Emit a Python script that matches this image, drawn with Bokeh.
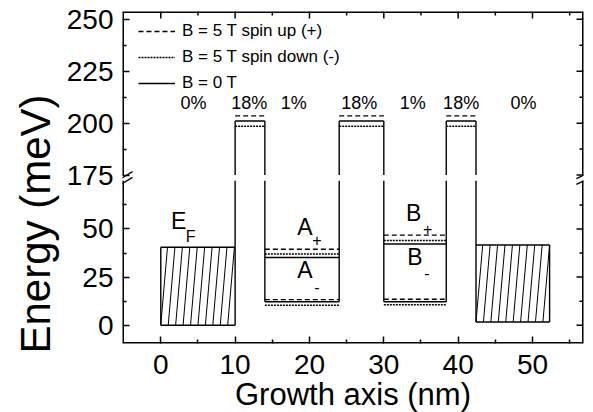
import numpy as np
from bokeh.plotting import figure
from bokeh.models import (Range1d, FixedTicker, Legend, LegendItem,
                          ColumnDataSource, Title)
from bokeh.core.properties import value
from bokeh.embed import file_html
from bokeh.resources import INLINE

nan = float("nan")

# ---------------- data ----------------
layer_edges = [0.0, 10.0, 14.0, 24.0, 30.0, 38.4, 42.4, 52.3]        # nm
layer_mn = ["0%", "18%", "1%", "18%", "1%", "18%", "0%"]
band_b0 = [0.0, 201.0, 12.2, 201.0, 12.2, 201.0, 1.7]                # meV, B = 0 T
band_up = [nan, 203.5, 13.3, 203.5, 13.5, 203.5, nan]                # B = 5 T spin up
band_dn = [nan, 198.5, 10.4, 198.5, 10.6, 198.5, nan]                # B = 5 T spin down
fermi_top = [40.5, nan, nan, nan, nan, nan, 41.7]                    # E_F in doped layers
level_b0 = [nan, nan, 35.2, nan, 42.2, nan, nan]
level_up = [nan, nan, 39.5, nan, 46.8, nan, nan]
level_dn = [nan, nan, 37.0, nan, 44.0, nan, nan]

mn_label_x = [4.4, 11.9, 17.9, 26.7, 33.9, 40.4, 48.8]
mn_label_E = 209.5

state_text = ["E", "A", "A", "B", "B"]
state_x = [2.4, 19.4, 19.4, 34.0, 34.2]
state_E = [54.0, 51.2, 28.8, 58.4, 35.6]
state_sub = ["F", "+", "-", "+", "-"]
state_sub_x = [4.0, 21.0, 21.0, 35.9, 35.8]
state_sub_E = [46.2, 44.2, 19.7, 50.0, 27.0]

x_ticks = [0, 10, 20, 30, 40, 50]
x_minor = [5, 15, 25, 35, 45, 55]
y_ticks_E = [0, 25, 50, 175, 200, 225, 250]
y_minor_E = [12.5, 37.5, 62.5, 187.5, 212.5, 237.5]

legend_labels = ["B = 5 T spin up (+)", "B = 5 T spin down (-)", "B = 0 T"]

# ---------------- broken energy axis ----------------
BREAK_LO, BREAK_HI = 75.0, 175.0
UP_OFFSET, UP_SCALE = 78.0, 1.08


def P(E):
    E = float(E)
    return E if E <= BREAK_LO else UP_OFFSET + (E - BREAK_HI) * UP_SCALE


X0, X1 = -5.15, 56.86
Y0, Y1 = -9.5, 163.0
FW, FH = 461, 332
FONT = "Liberation Sans"

p = figure(frame_width=FW, frame_height=FH, x_range=Range1d(X0, X1),
           y_range=Range1d(Y0, Y1), output_backend="svg", toolbar_location=None,
           min_border_left=122, min_border_top=11, min_border_right=8,
           min_border_bottom=10)
p.outline_line_color = None
p.xgrid.visible = False
p.ygrid.visible = False
p.background_fill_color = "white"

px_x = (X1 - X0) / FW   # data units per pixel
px_y = (Y1 - Y0) / FH


def hseg(store, xa, xb, e):
    store["x0"].append(xa); store["x1"].append(xb)
    store["y0"].append(P(e)); store["y1"].append(P(e))


def vseg(store, x, ea, eb):
    lo, hi = min(ea, eb), max(ea, eb)
    parts = [(lo, hi)]
    if lo < BREAK_LO and hi > BREAK_HI:
        parts = [(lo, BREAK_LO), (BREAK_HI, hi)]
    for a, b in parts:
        store["x0"].append(x); store["x1"].append(x)
        store["y0"].append(P(a)); store["y1"].append(P(b))


def new():
    return {"x0": [], "y0": [], "x1": [], "y1": []}


solid, dashed, dotted, hatch = new(), new(), new(), new()
n = len(layer_mn)
for i in range(n):
    xa, xb = layer_edges[i], layer_edges[i + 1]
    hseg(solid, xa, xb, band_b0[i])
    if not np.isnan(band_up[i]):
        hseg(dashed, xa, xb, band_up[i])
    if not np.isnan(band_dn[i]):
        hseg(dotted, xa, xb, band_dn[i])
    if not np.isnan(level_b0[i]):
        hseg(solid, xa, xb, level_b0[i])
    if not np.isnan(level_up[i]):
        hseg(dashed, xa, xb, level_up[i])
    if not np.isnan(level_dn[i]):
        hseg(dotted, xa, xb, level_dn[i])
    if not np.isnan(fermi_top[i]):
        hseg(solid, xa, xb, fermi_top[i])
        # hatching of the filled (doped) layer
        k = 0.0
        while xa + k < xb - 0.3:
            xt = min(xa + k + 0.9, xb)
            hatch["x0"].append(xa + k); hatch["y0"].append(P(band_b0[i]))
            hatch["x1"].append(xt); hatch["y1"].append(P(fermi_top[i]))
            k += 1.0
for j in range(1, n):
    vseg(solid, layer_edges[j], band_b0[j - 1], band_b0[j])
vseg(solid, layer_edges[0], band_b0[0], fermi_top[0])
vseg(solid, layer_edges[-1], band_b0[-1], fermi_top[-1])

# frame with axis breaks
frame = new()
for xe in (X0, X1):
    frame["x0"] += [xe, xe]; frame["x1"] += [xe, xe]
    frame["y0"] += [Y0, P(BREAK_HI)]; frame["y1"] += [P(BREAK_LO), Y1]
for ye in (Y0, Y1):
    frame["x0"].append(X0); frame["x1"].append(X1)
    frame["y0"].append(ye); frame["y1"].append(ye)
p.segment("x0", "y0", "x1", "y1", source=ColumnDataSource(frame),
          line_color="black", line_width=3)

# mirrored inward ticks on the top and right edges
mt = new()
for tv, ln in [(t, 7) for t in x_ticks] + [(t, 4) for t in x_minor]:
    mt["x0"].append(tv); mt["x1"].append(tv)
    mt["y0"].append(Y1); mt["y1"].append(Y1 - ln * px_y)
for tv, ln in [(P(e), 7) for e in y_ticks_E] + [(P(e), 4) for e in y_minor_E]:
    mt["x0"].append(X1); mt["x1"].append(X1 - ln * px_x)
    mt["y0"].append(tv); mt["y1"].append(tv)
p.segment("x0", "y0", "x1", "y1", source=ColumnDataSource(mt),
          line_color="black", line_width=1.5)

brk = new()
ymid = (P(BREAK_LO) + P(BREAK_HI)) / 2
for xe, dxl, dxr in ((X0, -0.2, 1.35), (X1, -0.95, 1.05)):
    for off in (-1.5, 1.5):
        brk["x0"].append(xe + dxl); brk["x1"].append(xe + dxr)
        brk["y0"].append(ymid + off - 1.8); brk["y1"].append(ymid + off + 1.8)
p.segment("x0", "y0", "x1", "y1", source=ColumnDataSource(brk),
          line_color="black", line_width=1.4)

p.segment("x0", "y0", "x1", "y1", source=ColumnDataSource(hatch),
          line_color="black", line_width=1.0)
r_b0 = p.segment("x0", "y0", "x1", "y1", source=ColumnDataSource(solid),
                 line_color="black", line_width=1.4)
r_up = p.segment("x0", "y0", "x1", "y1", source=ColumnDataSource(dashed),
                 line_color="black", line_width=1.4, line_dash="5 3")
r_dn = p.segment("x0", "y0", "x1", "y1", source=ColumnDataSource(dotted),
                 line_color="black", line_width=1.6, line_dash="2 1")

# texts
p.text(x=mn_label_x, y=[P(mn_label_E)] * len(mn_label_x), text=layer_mn,
       text_font=value(FONT), text_font_size="18px", text_align="center",
       text_baseline="middle", text_color="black")
p.text(x=state_x, y=[P(e) for e in state_E], text=state_text,
       text_font=value(FONT), text_font_size="23px", text_align="center",
       text_baseline="middle", text_color="black")
p.text(x=state_sub_x, y=[P(e) for e in state_sub_E], text=state_sub,
       text_font=value(FONT), text_font_size="16px", text_align="center",
       text_baseline="middle", text_color="black")

# axes
yt = [P(e) for e in y_ticks_E]
ym = [P(e) for e in y_minor_E]
overrides = {P(e): str(e) for e in y_ticks_E}


def style(ax):
    ax.axis_line_color = None
    ax.major_tick_in = 7
    ax.major_tick_out = 0
    ax.minor_tick_in = 4
    ax.minor_tick_out = 0
    ax.major_tick_line_width = 1.5
    ax.minor_tick_line_width = 1.5
    ax.major_tick_line_color = "black"
    ax.minor_tick_line_color = "black"
    ax.major_label_text_font = FONT
    ax.major_label_text_font_size = "28px"
    ax.major_label_text_color = "black"
    ax.axis_label_text_font = FONT
    ax.axis_label_text_font_style = "normal"
    ax.axis_label_text_color = "black"


xa = p.xaxis[0]
xa.ticker = FixedTicker(ticks=x_ticks, minor_ticks=x_minor)
style(xa)
xa.axis_label = "Growth axis (nm)"
xa.axis_label_text_font_size = "31px"
xa.major_label_standoff = 11
xa.axis_label_standoff = 0

ya = p.yaxis[0]
ya.ticker = FixedTicker(ticks=yt, minor_ticks=ym)
ya.major_label_overrides = overrides
style(ya)
ya.major_label_standoff = 9

ytitle = Title(text="Energy (meV)", align="left", offset=-10, standoff=10,
               text_font=FONT, text_font_size="42px", text_font_style="normal",
               text_color="black")
p.add_layout(ytitle, "left")

legend = Legend(items=[LegendItem(label=legend_labels[0], renderers=[r_up]),
                       LegendItem(label=legend_labels[1], renderers=[r_dn]),
                       LegendItem(label=legend_labels[2], renderers=[r_b0])],
                location=(16, 250), padding=0, margin=0, spacing=6,
                glyph_width=37, glyph_height=20, label_height=20,
                label_standoff=7, label_text_font=FONT,
                label_text_font_size="17px", label_text_color="black",
                border_line_color=None, background_fill_alpha=0)
p.add_layout(legend)

open("out.html", "w").write(file_html(p, INLINE))
